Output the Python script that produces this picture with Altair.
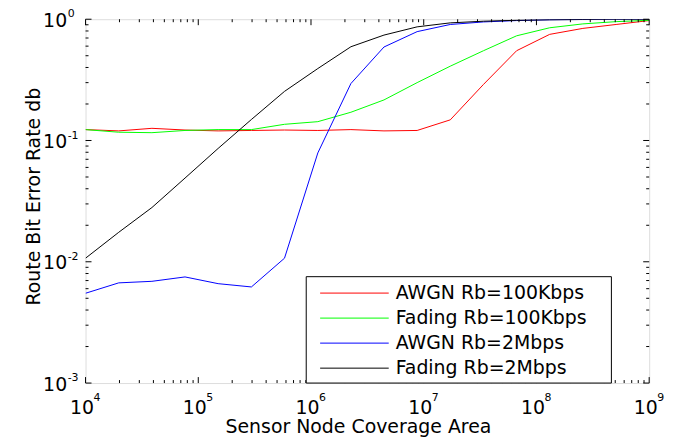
import altair as alt
import pandas as pd

# ---------------- data ----------------
x_vals = [1.0e4, 1.97e4, 3.88e4, 7.63e4, 1.50e5, 2.96e5, 5.82e5, 1.15e6, 2.26e6,
          4.44e6, 8.74e6, 1.72e7, 3.39e7, 6.67e7, 1.31e8, 2.58e8, 5.09e8, 1.0e9]

series_names = ["AWGN Rb=100Kbps", "Fading Rb=100Kbps", "AWGN Rb=2Mbps", "Fading Rb=2Mbps"]
series_colors = ["#ff0000", "#00ff00", "#0000ff", "#000000"]

awgn_100k = [0.123, 0.120, 0.126, 0.122, 0.120, 0.121, 0.122, 0.121, 0.123,
             0.120, 0.121, 0.148, 0.29, 0.55, 0.75, 0.84, 0.905, 0.975]
fading_100k = [0.123, 0.117, 0.116, 0.121, 0.123, 0.123, 0.136, 0.143, 0.171,
               0.216, 0.30, 0.41, 0.55, 0.73, 0.85, 0.915, 0.955, 0.98]
awgn_2m = [0.0055, 0.0067, 0.0069, 0.0075, 0.0066, 0.0062, 0.0107, 0.079, 0.295,
           0.59, 0.79, 0.905, 0.95, 0.975, 0.99, 0.995, 1.0, 1.0]
fading_2m = [0.0107, 0.0175, 0.028, 0.049, 0.086, 0.149, 0.254, 0.392, 0.593,
             0.74, 0.865, 0.933, 0.963, 0.98, 0.99, 0.995, 1.0, 1.0]

x_major = [1e4, 1e5, 1e6, 1e7, 1e8, 1e9]
x_exp_labels = ["4", "5", "6", "7", "8", "9"]
y_major = [1e-3, 1e-2, 1e-1, 1e0]
y_exp_labels = ["-3", "-2", "-1", "0"]
minor_mults = [2, 3, 4, 5, 6, 7, 8, 9]

# ---------------- tables ----------------
rows = []
for name, ys in zip(series_names, [awgn_100k, fading_100k, awgn_2m, fading_2m]):
    for xv, yv in zip(x_vals, ys):
        rows.append({"x": xv, "y": yv, "series": name})
df = pd.DataFrame(rows)

x_minor = [m * d for d in x_major[:-1] for m in minor_mults]
y_minor = [m * d for d in y_major[:-1] for m in minor_mults]

W, H = 567, 366
FONT = "DejaVu Sans"
FS = 19

xscale = alt.Scale(type="log", domain=[1e4, 1e9], nice=False)
yscale = alt.Scale(type="log", domain=[1e-3, 1], nice=False)
color_scale = alt.Scale(domain=series_names, range=series_colors)

x_axis = alt.Axis(values=x_major, labelExpr="'10'", ticks=False, tickSize=0, domain=False,
                  grid=False, labelFont=FONT, labelFontSize=FS, labelColor="black",
                  labelPadding=16, labelOffset=-4, labelFlush=False, labelOverlap=False,
                  title="Sensor Node Coverage Area", titleFont=FONT, titleFontSize=FS,
                  titleFontWeight="normal", titleColor="black", titleX=274, titleY=50,
                  titleBaseline="alphabetic", titleAlign="center")
y_axis = alt.Axis(values=y_major, labelExpr="'10'", ticks=False, tickSize=0, domain=False,
                  grid=False, labelFont=FONT, labelFontSize=FS, labelColor="black",
                  labelPadding=19, labelAlign="right", labelBaseline="middle", labelOffset=1,
                  labelFlush=False, labelOverlap=False,
                  title="Route Bit Error Rate db", titleFont=FONT, titleFontSize=FS,
                  titleFontWeight="normal", titleColor="black", titleX=-46, titleY=178,
                  titleBaseline="alphabetic", titleAlign="center", titleAngle=270)

lines = alt.Chart(df).mark_line(strokeWidth=1, clip=True).encode(
    x=alt.X("x:Q", scale=xscale, axis=x_axis),
    y=alt.Y("y:Q", scale=yscale, axis=y_axis),
    color=alt.Color("series:N", scale=color_scale, legend=None),
)

layers = [lines]

def xticks(vals, y0, y1):
    d = pd.DataFrame({"x": vals})
    return alt.Chart(d).mark_rule(color="black", strokeWidth=1).encode(
        x=alt.X("x:Q", scale=xscale, axis=x_axis), y=alt.value(y0), y2=alt.value(y1))

def yticks(vals, x0, x1):
    d = pd.DataFrame({"y": vals})
    return alt.Chart(d).mark_rule(color="black", strokeWidth=1).encode(
        y=alt.Y("y:Q", scale=yscale, axis=y_axis), x=alt.value(x0), x2=alt.value(x1))

MAJ, MIN = 6, 3
layers += [xticks(x_major, H, H - MAJ), xticks(x_minor, H, H - MIN),
           xticks(x_major, 0, MAJ), xticks(x_minor, 0, MIN),
           yticks(y_major, 0, MAJ), yticks(y_minor, 0, MIN),
           yticks(y_major, W, W - MAJ), yticks(y_minor, W, W - MIN)]

xexp = alt.Chart(pd.DataFrame({"x": x_major, "t": x_exp_labels})).mark_text(
    font=FONT, fontSize=11, color="black", align="left", baseline="alphabetic", dx=8
).encode(x=alt.X("x:Q", scale=xscale, axis=x_axis), y=alt.value(H + 18), text="t:N")

yexp = alt.Chart(pd.DataFrame({"y": y_major, "t": y_exp_labels})).mark_text(
    font=FONT, fontSize=11, color="black", align="left", baseline="alphabetic", dy=-2
).encode(y=alt.Y("y:Q", scale=yscale, axis=y_axis), x=alt.value(-18), text="t:N")

layers += [xexp, yexp]

# ---------------- legend (box + entries) ----------------
leg_df = pd.DataFrame({"series": series_names, "row": [0, 1, 2, 3]})
leg_row = alt.Y("row:Q", scale=alt.Scale(domain=[0, 3], range=[275.5, 351]), axis=None)

leg_box = alt.Chart(pd.DataFrame({"k": [0]})).mark_rect(
    fill="white", stroke="black", strokeWidth=1
).encode(x=alt.value(222), x2=alt.value(529), y=alt.value(259), y2=alt.value(366))

leg_lines = alt.Chart(leg_df).mark_rule(strokeWidth=1).encode(
    y=leg_row, x=alt.value(236), x2=alt.value(305),
    color=alt.Color("series:N", scale=color_scale, legend=None))

leg_text = alt.Chart(leg_df).mark_text(
    font=FONT, fontSize=FS, color="black", align="left", baseline="middle"
).encode(y=leg_row, x=alt.value(312), text="series:N")

legend = alt.layer(leg_box, leg_lines, leg_text)

main = alt.layer(*layers)

chart = alt.layer(main, legend).resolve_scale(y="independent").properties(
    width=W, height=H,
    autosize=alt.AutoSizeParams(type="none"),
    padding={"left": 78, "top": 10, "right": 30, "bottom": 56},
).configure_view(stroke="black", strokeWidth=1).configure(background="white")

chart.save("out.html", embed_options={"renderer": "svg", "actions": False})
